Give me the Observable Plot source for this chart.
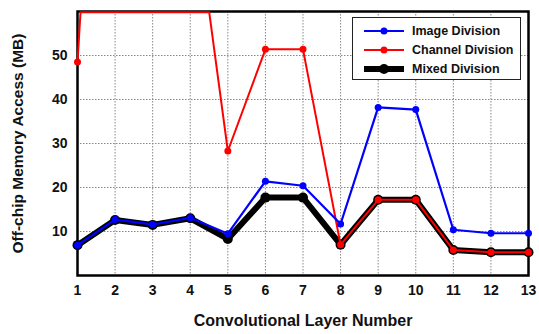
<!DOCTYPE html>
<html>
<head>
<meta charset="utf-8">
<script src="https://cdn.jsdelivr.net/npm/d3@7"></script>
<script src="https://cdn.jsdelivr.net/npm/@observablehq/plot@0.6"></script>
<style>
  html, body { margin: 0; padding: 0; background: #fff; }
  #wrap { position: relative; width: 539px; height: 334px; font-family: "Liberation Sans", Arial, sans-serif; }
  #legend { position: absolute; left: 352px; top: 17px; width: 167px; height: 61px; border: 1.5px solid #222; background: #fff; }
  .row { position: absolute; left: 0; height: 18px; display: flex; align-items: center; }
  .row span { font-weight: bold; font-size: 12.5px; color: #111; margin-left: 8px; }
  .row svg { margin-left: 11px; }
</style>
</head>
<body>
<div id="wrap"></div>
<script>
const layers = [1, 2, 3, 4, 5, 6, 7, 8, 9, 10, 11, 12, 13];
const imageDivision   = [6.9, 12.7, 11.6, 13.1, 9.5, 21.4, 20.4, 11.7, 38.2, 37.7, 10.4, 9.6, 9.6];
const channelDivision = [48.5, 190, 150, 92, 28.3, 51.4, 51.4, 7.0, 17.2, 17.2, 5.8, 5.3, 5.3];
const mixedDivision   = [6.9, 12.6, 11.5, 13.0, 8.3, 17.7, 17.7, 7.0, 17.2, 17.2, 5.8, 5.3, 5.3];
const yTicks = [10, 20, 30, 40, 50];
const seriesNames = ["Image Division", "Channel Division", "Mixed Division"];
const seriesColors = ["#0000ff", "#ff0000", "#000000"];

const toRows = vals => layers.map((l, i) => ({layer: l, value: vals[i]}));
const img = toRows(imageDivision);
const ch = toRows(channelDivision);
const mx = toRows(mixedDivision);
const yMax = 60;

const chart = Plot.plot({
  width: 539,
  height: 334,
  marginLeft: 77,
  marginRight: 11,
  marginTop: 11,
  marginBottom: 59,
  style: {fontFamily: "Liberation Sans, Arial, sans-serif", fontWeight: "bold", color: "#111", background: "#fff", overflow: "hidden"},
  x: {domain: [1, 13]},
  y: {domain: [0, yMax]},
  marks: [
    Plot.gridX({ticks: layers.slice(1, -1), stroke: "#888", strokeOpacity: 1, strokeDasharray: "1.5,1.5"}),
    Plot.gridY({ticks: yTicks, stroke: "#888", strokeOpacity: 1, strokeDasharray: "1.5,1.5"}),
    Plot.frame({stroke: "#000", strokeWidth: 2.5}),
    Plot.axisX({ticks: layers, tickFormat: d => d, tickSize: 0, tickPadding: 10, fontSize: 14, fontWeight: "bold", label: null}),
    Plot.axisY({ticks: yTicks, tickSize: 0, tickPadding: 10, fontSize: 14, fontWeight: "bold", label: null}),
    Plot.text(["Convolutional Layer Number"], {frameAnchor: "bottom", dy: 50, fontSize: 16, fontWeight: "bold", fill: "#111"}),
    Plot.text(["Off-chip Memory Access (MB)"], {frameAnchor: "left", textAnchor: "middle", dx: -59, rotate: -90, fontSize: 15.5, fontWeight: "bold", fill: "#111"}),
    // Mixed
    Plot.line(mx, {x: "layer", y: "value", stroke: "#000", strokeWidth: 6, strokeLinejoin: "round"}),
    Plot.dot(mx, {x: "layer", y: "value", r: 5, fill: "#000", stroke: "none"}),
    // Channel
    Plot.line(ch, {x: "layer", y: "value", stroke: "#ff0000", strokeWidth: 2}),
    Plot.dot(ch.filter(d => d.value <= yMax), {x: "layer", y: "value", r: 3.5, fill: "#ff0000", stroke: "none"}),
    // Image
    Plot.line(img, {x: "layer", y: "value", stroke: "#0000ff", strokeWidth: 2.2}),
    Plot.dot(img, {x: "layer", y: "value", r: 3.5, fill: "#0000ff", stroke: "none"})
  ]
});

// The channel series leaves the axes: draw its out-of-range part along the top edge (as the original renderer did)
(function () {
  const lines = [...chart.querySelectorAll('g[aria-label="line"]')];
  const g = lines.find(el => (el.getAttribute("stroke") || "").toLowerCase() === "#ff0000") || lines[1];
  if (!g) return;
  const level = chart.scale("y").apply(yMax) + 0.8;
  g.querySelectorAll("path").forEach(path => {
    const nums = (path.getAttribute("d").match(/-?\d*\.?\d+(?:e-?\d+)?/gi) || []).map(Number);
    const pts = [];
    for (let i = 0; i + 1 < nums.length; i += 2) pts.push([nums[i], nums[i + 1]]);
    const out = [];
    pts.forEach((p, i) => {
      if (i > 0) {
        const q = pts[i - 1];
        if ((q[1] < level) !== (p[1] < level)) {
          const t = (level - q[1]) / (p[1] - q[1]);
          out.push([q[0] + t * (p[0] - q[0]), level]);
        }
      }
      out.push([p[0], Math.max(p[1], level)]);
    });
    if (out.length) path.setAttribute("d", "M" + out.map(p => p[0].toFixed(2) + "," + p[1].toFixed(2)).join("L"));
  });
})();

const wrap = document.getElementById("wrap");
wrap.appendChild(chart);

const legend = document.createElement("div");
legend.id = "legend";
const rowTops = [4, 23, 42];
seriesNames.forEach((name, i) => {
  const row = document.createElement("div");
  row.className = "row";
  row.style.top = rowTops[i] + "px";
  const w = i === 2 ? 6 : 2;
  const r = i === 2 ? 5 : 3.5;
  row.innerHTML = `<svg width="40" height="14"><line x1="0" y1="7" x2="40" y2="7" stroke="${seriesColors[i]}" stroke-width="${w}" stroke-linecap="round"/><circle cx="20" cy="7" r="${r}" fill="${seriesColors[i]}"/></svg><span>${name}</span>`;
  legend.appendChild(row);
});
wrap.appendChild(legend);
</script>
</body>
</html>
